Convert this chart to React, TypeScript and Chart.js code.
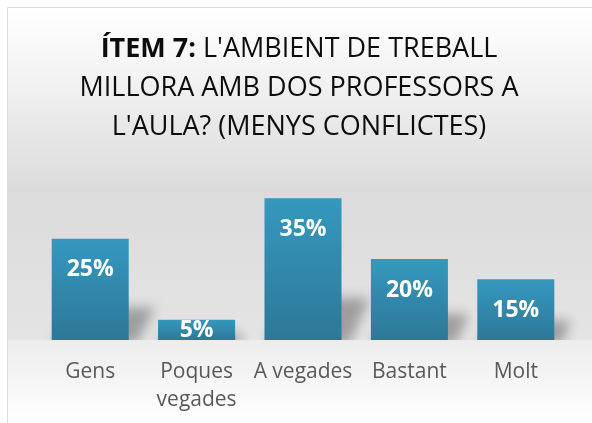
import React, { useEffect, useRef } from 'react';
import { Chart, registerables } from 'chart.js';

Chart.register(...registerables);

// ---- data ----
const categories: (string | string[])[] = ['Gens', ['Poques', 'vegades'], 'A vegades', 'Bastant', 'Molt'];
const percentages: number[] = [25, 5, 35, 20, 15];
const valueSuffix = '%';
const yMin = 0;
const yMax = 40;
const titleBold = 'ÍTEM 7:';
const titleLines: string[] = [" L'AMBIENT DE TREBALL", 'MILLORA AMB DOS PROFESSORS A', "L'AULA? (MENYS CONFLICTES)"];

const FONT = '"Open Sans", "Noto Sans", sans-serif';
const W = 592;
const H = 423;

const backgroundPlugin = {
  id: 'bgPlugin',
  beforeDraw(chart: any) {
    const { ctx } = chart;
    const base = chart.chartArea.bottom;
    ctx.save();
    ctx.fillStyle = '#ffffff';
    ctx.fillRect(0, 0, W, H);
    const g = ctx.createLinearGradient(0, 7, 0, H);
    const span = H - 7;
    g.addColorStop(0, '#ffffff');
    g.addColorStop((60 - 7) / span, '#f6f6f6');
    g.addColorStop((190 - 7) / span, '#dbdbdb');
    g.addColorStop((base - 1 - 7) / span, '#e4e4e4');
    g.addColorStop((base + 1 - 7) / span, '#ededed');
    g.addColorStop(1, '#ffffff');
    ctx.fillStyle = g;
    ctx.fillRect(7, 7, W, H);
    ctx.strokeStyle = '#d9d9d9';
    ctx.lineWidth = 1;
    ctx.strokeRect(7.5, 7.5, W + 20, H + 20);
    ctx.restore();
  },
};

const titlePlugin = {
  id: 'titlePlugin',
  afterDraw(chart: any) {
    const { ctx } = chart;
    const cx = 299;
    const baselines = [57, 96, 135];
    const boldFont = `bold 27px ${FONT}`;
    const normalFont = `27px ${FONT}`;
    ctx.save();
    ctx.fillStyle = '#0d0d0d';
    ctx.textBaseline = 'alphabetic';
    ctx.textAlign = 'left';
    ctx.font = boldFont;
    const wb = ctx.measureText(titleBold).width;
    ctx.font = normalFont;
    const wn = ctx.measureText(titleLines[0]).width;
    const x = cx - (wb + wn) / 2;
    ctx.font = boldFont;
    ctx.fillText(titleBold, x, baselines[0]);
    ctx.font = normalFont;
    ctx.fillText(titleLines[0], x + wb, baselines[0]);
    ctx.textAlign = 'center';
    for (let i = 1; i < titleLines.length; i++) {
      ctx.fillText(titleLines[i], cx, baselines[i]);
    }
    ctx.restore();
  },
};

const shadowPlugin = {
  id: 'shadowPlugin',
  beforeDatasetsDraw(chart: any) {
    const { ctx } = chart;
    const meta = chart.getDatasetMeta(0);
    const bottom = chart.chartArea.bottom;
    ctx.save();
    ctx.beginPath();
    ctx.rect(0, 0, W, bottom);
    ctx.clip();
    ctx.filter = 'blur(6px)';
    ctx.fillStyle = 'rgba(0,0,0,0.3)';
    meta.data.forEach((el: any) => {
      const { x, y, base, width } = el.getProps(['x', 'y', 'base', 'width'], true);
      const h = base - y;
      const dh = Math.min(h * 0.32, 42);
      const dx = Math.min(h * 0.26, 28);
      const l = x - width / 2;
      const r = x + width / 2;
      ctx.beginPath();
      ctx.moveTo(l, base + 4);
      ctx.lineTo(r + 8, base + 4);
      ctx.lineTo(r + dx, base - dh);
      ctx.lineTo(l + dx, base - dh);
      ctx.closePath();
      ctx.fill();
    });
    ctx.restore();
  },
};

const labelPlugin = {
  id: 'labelPlugin',
  afterDatasetsDraw(chart: any) {
    const { ctx } = chart;
    const meta = chart.getDatasetMeta(0);
    const data = chart.data.datasets[0].data as number[];
    ctx.save();
    ctx.font = `bold 23px ${FONT}`;
    ctx.fillStyle = '#ffffff';
    ctx.textAlign = 'center';
    ctx.textBaseline = 'middle';
    meta.data.forEach((el: any, i: number) => {
      const { x, y, base } = el.getProps(['x', 'y', 'base'], true);
      const h = base - y;
      const cy = h < 62 ? (y + base) / 2 + 1 : y + 31;
      ctx.fillText(`${data[i]}${valueSuffix}`, x, cy);
    });
    ctx.restore();
  },
};

export default function App() {
  const ref = useRef<HTMLCanvasElement | null>(null);

  useEffect(() => {
    document.body.style.margin = '0';
    const canvas = ref.current;
    if (!canvas) return;
    const chart = new Chart(canvas, {
      type: 'bar',
      data: {
        labels: categories,
        datasets: [
          {
            data: percentages,
            backgroundColor: (c: any) => {
              const ys = c.chart.scales && c.chart.scales.y;
              if (!ys || c.raw == null) return '#3190b5';
              const top = ys.getPixelForValue(c.raw);
              const bot = ys.getPixelForValue(0);
              if (!isFinite(top) || !isFinite(bot) || top === bot) return '#3190b5';
              const g = c.chart.ctx.createLinearGradient(0, top, 0, bot);
              g.addColorStop(0, '#3598bf');
              g.addColorStop(1, '#2d7898');
              return g;
            },
            borderWidth: 0,
            barPercentage: 0.724,
            categoryPercentage: 1.0,
          },
        ],
      },
      options: {
        animation: false,
        responsive: false,
        devicePixelRatio: 1,
        layout: { padding: { top: 178, left: 37, right: 23, bottom: 0 } },
        plugins: {
          legend: { display: false },
          title: { display: false },
          tooltip: { enabled: false },
        },
        scales: {
          x: {
            grid: { display: false, drawTicks: false },
            border: { display: false },
            ticks: {
              color: '#595959',
              font: { family: FONT, size: 21, lineHeight: 1.33 },
              padding: 18,
              maxRotation: 0,
              autoSkip: false,
            },
            afterFit: (s: any) => {
              s.height = 83;
            },
          },
          y: { display: false, min: yMin, max: yMax },
        },
      },
      plugins: [backgroundPlugin, shadowPlugin, labelPlugin, titlePlugin],
    });
    return () => chart.destroy();
  }, []);

  return <canvas ref={ref} width={W} height={H} style={{ display: 'block' }} />;
}
